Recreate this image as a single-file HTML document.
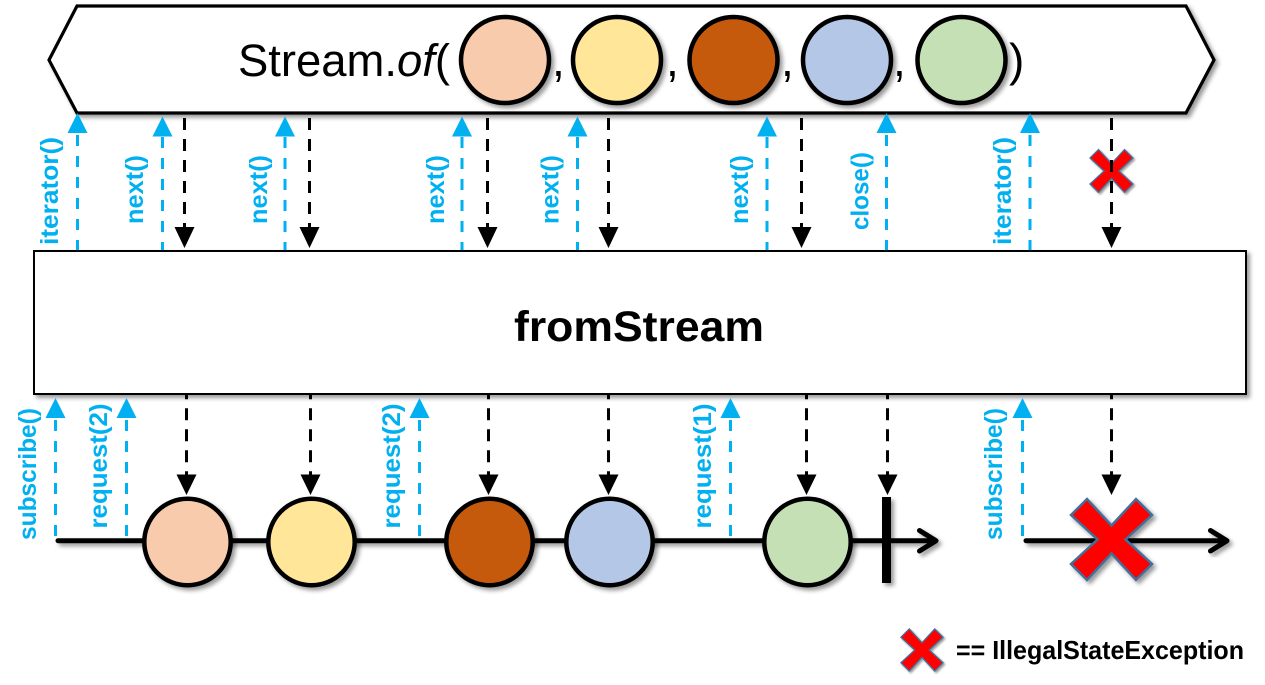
<!DOCTYPE html>
<html><head><meta charset="utf-8"><style>
html,body{margin:0;padding:0;background:#fff}
svg{display:block}
.b{font-family:"Liberation Sans",sans-serif;font-weight:bold;font-size:25px;fill:#00B0F0}
</style></head><body>
<svg width="1265" height="685" viewBox="0 0 1265 685" xmlns="http://www.w3.org/2000/svg">
<defs>
<filter id="s" x="-20%" y="-20%" width="150%" height="150%"><feDropShadow dx="3" dy="3" stdDeviation="2" flood-color="#000" flood-opacity=".4"/></filter>
<polygon id="x" points="-40.5,-24.5 -24.5,-40.5 0,-14 24.5,-40.5 40.5,-24.5 14,0 40.5,24.5 24.5,40.5 0,14 -24.5,40.5 -40.5,24.5 -14,0" fill="#f00" stroke="#41719C" stroke-width="2.5" stroke-linejoin="miter"/>
</defs>

<polygon points="49,60 77,6 1186,6 1214,60 1186,113 77,113" fill="#fff" stroke="#000" stroke-width="3.2" filter="url(#s)"/>
<text x="238" y="76" font-family="Liberation Sans,sans-serif" font-size="45" textLength="212" lengthAdjust="spacingAndGlyphs">Stream.<tspan font-style="italic">of</tspan>(</text>
<g font-family="Liberation Sans,sans-serif" font-size="46">
<text x="552" y="76">,</text><text x="666" y="76">,</text><text x="781" y="76">,</text><text x="893" y="76">,</text>
<text x="1009" y="76">)</text>
</g>
<g stroke="#000" stroke-width="4.500" filter="url(#s)">
<ellipse cx="505" cy="60" rx="44" ry="43" fill="#F8CBAD"/>
<ellipse cx="617" cy="60" rx="44" ry="43" fill="#FFE699"/>
<ellipse cx="733.500" cy="60" rx="44" ry="43" fill="#C55A11"/>
<ellipse cx="847" cy="60" rx="44" ry="43" fill="#B4C7E7"/>
<ellipse cx="961.500" cy="60" rx="44" ry="43" fill="#C5E0B4"/>
</g>

<rect x="34" y="251" width="1212" height="143" fill="#fff" stroke="#000" stroke-width="2" filter="url(#s)"/>
<text x="514" y="341" font-family="Liberation Sans,sans-serif" font-weight="bold" font-size="43" textLength="250" lengthAdjust="spacingAndGlyphs">fromStream</text>

<use href="#x" transform="translate(1111.500,171) scale(.53)" filter="url(#s)"/>

<!-- blue dashed -->
<g stroke="#00B0F0" stroke-width="3" stroke-dasharray="11 10" fill="none">
<path d="M77.500 135V250M162.500 137V250M285 137V250M462 137V250M577.500 137V250M767 137V250M886.500 135V250M1030 135V250"/>
<path d="M55.500 420V537M126.500 420V537M419.500 420V537M730.500 420V537M1022.500 420V537"/>
</g>
<g fill="#00B0F0">
<polygon points="77.500,113 87.500,133 67.500,133"/>
<polygon points="162.500,116.500 172.500,136.500 152.500,136.500"/>
<polygon points="285,116.500 295,136.500 275,136.500"/>
<polygon points="462,116.500 472,136.500 452,136.500"/>
<polygon points="577.500,116.500 587.500,136.500 567.500,136.500"/>
<polygon points="767,116.500 777,136.500 757,136.500"/>
<polygon points="886.500,113 896.500,133 876.500,133"/>
<polygon points="1030,113 1040,133 1020,133"/>
<polygon points="55.500,398 65.500,418 45.500,418"/>
<polygon points="126.500,398 136.500,418 116.500,418"/>
<polygon points="419.500,398 429.500,418 409.500,418"/>
<polygon points="730.500,398 740.500,418 720.500,418"/>
<polygon points="1022.500,398 1032.500,418 1012.500,418"/>
</g>

<!-- black dashed -->
<g stroke="#000" stroke-width="3" stroke-dasharray="12 9" fill="none">
<path d="M184.500 118V230M309.500 118V230M487.500 118V230M608.500 118V230M801.500 118V230M1111.500 118V230"/>
</g>
<g stroke="#000" stroke-width="3" stroke-dasharray="12 9" stroke-dashoffset="7.7" fill="none">
<path d="M186.500 395V477M310.500 395V477M488.500 395V477M608.500 395V477M806.500 395V477M887.500 395V477M1111.500 395V477"/>
</g>
<g fill="#000">
<polygon points="184.500,248 174.500,227 194.500,227"/>
<polygon points="309.500,248 299.500,227 319.500,227"/>
<polygon points="487.500,248 477.500,227 497.500,227"/>
<polygon points="608.500,248 598.500,227 618.500,227"/>
<polygon points="801.500,248 791.500,227 811.500,227"/>
<polygon points="1111.500,248 1101.500,227 1121.500,227"/>
<polygon points="186.500,495 176.500,474.500 196.500,474.500"/>
<polygon points="310.500,495 300.500,474.500 320.500,474.500"/>
<polygon points="488.500,495 478.500,474.500 498.500,474.500"/>
<polygon points="608.500,495 598.500,474.500 618.500,474.500"/>
<polygon points="806.500,495 796.500,474.500 816.500,474.500"/>
<polygon points="887.500,495 877.500,474.500 897.500,474.500"/>
<polygon points="1111.500,495 1101.500,474.500 1121.500,474.500"/>
</g>

<!-- timelines -->
<g filter="url(#s)">
<path d="M58 540.700H935M919.500 530.500L936 540.700L919.500 551" fill="none" stroke="#000" stroke-width="5" stroke-linecap="round" stroke-linejoin="round"/>
<rect x="882" y="497" width="9" height="86" fill="#000"/>
</g>
<g stroke="#000" stroke-width="4.500" filter="url(#s)">
<circle cx="187.500" cy="542" r="43.200" fill="#F8CBAD"/>
<circle cx="311.500" cy="542" r="43.200" fill="#FFE699"/>
<circle cx="489.500" cy="542" r="43.200" fill="#C55A11"/>
<circle cx="609.500" cy="542" r="43.200" fill="#B4C7E7"/>
<circle cx="807.500" cy="542" r="43.200" fill="#C5E0B4"/>
</g>
<path d="M1026 540.700H1226M1210.500 530.500L1227 540.700L1210.500 551" fill="none" stroke="#000" stroke-width="5" stroke-linecap="round" stroke-linejoin="round" filter="url(#s)"/>
<use href="#x" transform="translate(1111.500,539.500)" filter="url(#s)"/>
<use href="#x" transform="translate(922,650) scale(.52)" filter="url(#s)"/>

<!-- labels -->
<g class="b">
<text transform="translate(58,245) rotate(-90)" textLength="108" lengthAdjust="spacingAndGlyphs">iterator()</text>
<text transform="translate(143,224) rotate(-90)" textLength="69" lengthAdjust="spacingAndGlyphs">next()</text>
<text transform="translate(267,224) rotate(-90)" textLength="69" lengthAdjust="spacingAndGlyphs">next()</text>
<text transform="translate(444,224) rotate(-90)" textLength="69" lengthAdjust="spacingAndGlyphs">next()</text>
<text transform="translate(558.500,224) rotate(-90)" textLength="69" lengthAdjust="spacingAndGlyphs">next()</text>
<text transform="translate(748,224) rotate(-90)" textLength="69" lengthAdjust="spacingAndGlyphs">next()</text>
<text transform="translate(868.500,230) rotate(-90)" textLength="78" lengthAdjust="spacingAndGlyphs">close()</text>
<text transform="translate(1011,245) rotate(-90)" textLength="108" lengthAdjust="spacingAndGlyphs">iterator()</text>
<text transform="translate(36,540) rotate(-90)" textLength="132" lengthAdjust="spacingAndGlyphs">subscribe()</text>
<text transform="translate(107,528.500) rotate(-90)" textLength="125" lengthAdjust="spacingAndGlyphs">request(2)</text>
<text transform="translate(400,528.500) rotate(-90)" textLength="125" lengthAdjust="spacingAndGlyphs">request(2)</text>
<text transform="translate(711,528.500) rotate(-90)" textLength="125" lengthAdjust="spacingAndGlyphs">request(1)</text>
<text transform="translate(1002,540) rotate(-90)" textLength="132" lengthAdjust="spacingAndGlyphs">subscribe()</text>
</g>
<text x="956" y="659" font-family="Liberation Sans,sans-serif" font-weight="bold" font-size="26" textLength="288" lengthAdjust="spacingAndGlyphs">== IllegalStateException</text>
</svg>
</body></html>
